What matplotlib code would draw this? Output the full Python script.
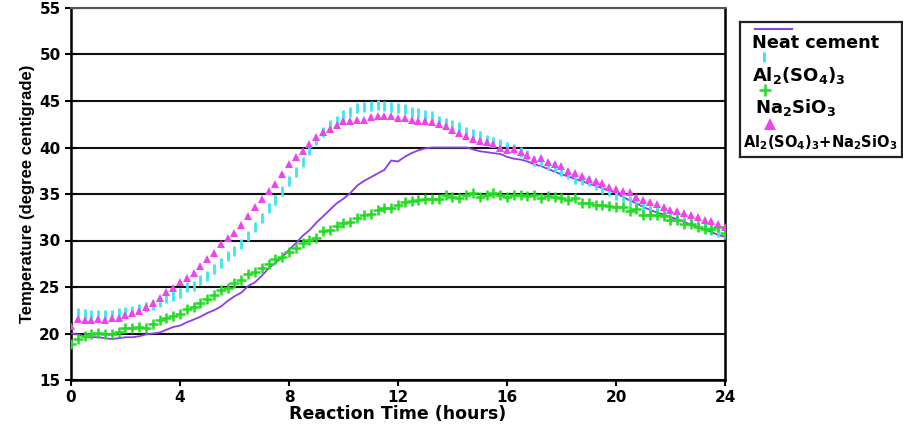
import numpy as np
import matplotlib
matplotlib.use("Agg")
import matplotlib.pyplot as plt

plt.rcParams['font.family'] = ['DejaVu Sans']
plt.rcParams['mathtext.fontset'] = 'custom'
plt.rcParams['mathtext.rm'] = 'DejaVu Sans:bold'
plt.rcParams['mathtext.it'] = 'DejaVu Sans:bold'
plt.rcParams['mathtext.bf'] = 'DejaVu Sans:bold'

# reaction time, every 15 minutes
hours = np.arange(0, 24.01, 0.25)

neat_cement = [
    20.0, 19.9, 19.7, 19.6, 19.6, 19.5, 19.4, 19.5, 19.6, 19.6, 19.7, 19.9,
    20.0, 20.1, 20.4, 20.7, 20.85, 21.2, 21.5, 21.8, 22.2, 22.5, 22.9, 23.5,
    24.0, 24.4, 25.1, 25.5, 26.2, 27.0, 27.6, 28.2, 29.0, 29.7, 30.5, 31.1,
    31.9, 32.6, 33.3, 34.0, 34.5, 35.1, 35.9, 36.4, 36.8, 37.2, 37.6, 38.6,
    38.5, 39.0, 39.4, 39.7, 39.9, 40.0, 40.0, 40.0, 40.0, 40.0, 40.0, 39.8,
    39.6, 39.5, 39.4, 39.3, 39.0, 38.8, 38.7, 38.5, 38.2, 38.0, 37.7, 37.4,
    37.1, 36.9, 36.6, 36.4, 36.1, 35.9, 35.6, 35.4, 35.1, 34.7, 34.3, 34.0,
    33.6, 33.3, 33.0, 32.8, 32.5, 32.3, 32.0, 31.7, 31.45, 31.2, 30.9, 30.6,
    30.4,
]

al_sulfate = [
    np.nan, 22.2, 22.1, 22.0, 22.0, 22.0, 22.0, 22.2, 22.3, 22.4, 22.6, 22.9,
    23.1, 23.4, 23.8, 24.0, 24.4, 25.0, 25.1, 25.8, 26.2, 26.9, 27.6, 28.3,
    28.9, 29.6, 30.5, 31.5, 32.4, 33.5, 34.4, 35.3, 36.4, 37.4, 38.4, 39.7,
    40.8, 41.7, 42.4, 42.9, 43.5, 43.8, 44.2, 44.4, 44.5, 44.6, 44.5, 44.4,
    44.3, 44.1, 43.8, 43.7, 43.5, 43.4, 42.9, 42.6, 42.4, 42.2, 41.7, 41.4,
    41.2, 40.8, 40.6, 40.4, 40.1, 39.8, 39.5, 39.2, 38.6, 38.5, 38.1, 37.9,
    37.45, 37.1, 36.6, 36.5, 36.4, 36.0, 35.5, 35.3, 34.9, 34.7, 34.3, 34.0,
    33.6, 33.35, 33.1, 32.9, 32.7, 32.5, 32.25, 32.1, 31.8, 31.45, 31.15, 30.9,
    30.7,
]

na_silicate = [
    18.9, 19.4, 19.7, 20.0, 20.1, 20.0, 20.0, 20.2, 20.6, 20.6, 20.7, 20.6,
    21.0, 21.4, 21.7, 21.85, 22.1, 22.6, 22.9, 23.3, 23.7, 24.1, 24.7, 24.9,
    25.4, 25.8, 26.4, 26.6, 27.0, 27.5, 28.0, 28.2, 28.8, 29.2, 29.7, 30.1,
    30.25, 31.0, 31.1, 31.6, 31.9, 32.0, 32.4, 32.75, 32.9, 33.3, 33.5, 33.5,
    33.8, 34.1, 34.3, 34.4, 34.5, 34.5, 34.5, 34.9, 34.7, 34.6, 34.9, 35.1,
    34.7, 34.9, 35.1, 34.9, 34.7, 34.9, 34.9, 34.8, 34.9, 34.6, 34.8, 34.65,
    34.55, 34.4, 34.55, 34.0, 34.0, 33.8, 33.8, 33.7, 33.55, 33.55, 33.2, 33.35,
    32.7, 32.7, 32.7, 32.6, 32.2, 32.25, 31.75, 31.75, 31.5, 31.2, 31.2, 31.4,
    30.8,
]

combined = [
    20.8, 21.6, 21.5, 21.4, 21.6, 21.5, 21.7, 21.7, 22.0, 22.2, 22.4, 22.9,
    23.3, 23.8, 24.5, 24.9, 25.5, 26.0, 26.5, 27.3, 28.0, 28.7, 29.6, 30.3,
    30.8, 31.7, 32.6, 33.6, 34.5, 35.3, 36.1, 37.2, 38.2, 39.0, 39.6, 40.4,
    41.1, 41.7, 42.0, 42.4, 42.9, 42.8, 43.0, 43.0, 43.3, 43.4, 43.4, 43.4,
    43.2, 43.2, 43.0, 42.9, 42.9, 42.7, 42.5, 42.3, 41.9, 41.6, 41.2, 40.9,
    40.7, 40.6, 40.4, 40.0, 39.7, 39.8, 39.5, 39.2, 38.8, 38.9, 38.4, 38.2,
    38.0, 37.5, 37.3, 36.9, 36.6, 36.4, 36.2, 35.8, 35.5, 35.3, 35.2, 34.7,
    34.4, 34.1, 33.9, 33.6, 33.3, 33.2, 33.0, 32.7, 32.5, 32.2, 32.1, 31.8,
    31.5,
]

labels = ["Neat cement", r"Al$_2$(SO$_4$)$_3$", r"Na$_2$SiO$_3$",
          r"Al$_2$(SO$_4$)$_3$+Na$_2$SiO$_3$"]

c_neat = "#8a3fe6"
c_al = "#3ee6ee"
c_na = "#22dd22"
c_mix = "#ee44ee"

W, H = 904, 428
fig = plt.figure(figsize=(W / 100, H / 100), dpi=100)
ax = fig.add_axes([71 / W, 1 - 380 / H, (725 - 71) / W, (380 - 8) / H])

ax.plot(hours, neat_cement, color=c_neat, lw=1.3, zorder=3)
ax.plot(hours, al_sulfate, ls="none", marker="|", ms=7, mew=2.0, color=c_al, zorder=4)
ax.plot(hours, na_silicate, ls="none", marker="+", ms=6.5, mew=1.8, color=c_na, zorder=4)
ax.plot(hours, combined, ls="none", marker="^", ms=5.5, mew=0, color=c_mix, zorder=4)

ax.set_xlim(0, 24)
ax.set_ylim(15, 55)
ax.set_xticks(range(0, 25, 4))
ax.set_yticks(range(15, 56, 5))
ax.yaxis.grid(True, color="#111111", lw=1.5)
ax.set_axisbelow(True)
for s in ["left", "bottom", "right"]:
    ax.spines[s].set_color("black")
    ax.spines[s].set_linewidth(1.8)
ax.spines["top"].set_color("#555555")
ax.spines["top"].set_linewidth(1.5)
ax.tick_params(axis="y", direction="inout", length=9, width=1.5, pad=3)
ax.tick_params(axis="x", direction="out", length=4, width=1.5, pad=3)
for lab in ax.get_xticklabels() + ax.get_yticklabels():
    lab.set_fontweight("bold")
    lab.set_fontsize(11)

ax.set_xlabel("Reaction Time (hours)", fontsize=12.5, fontweight="bold", labelpad=0)
ax.set_ylabel("Temperature (degree centigrade)", fontsize=12,
              family=["Liberation Sans", "DejaVu Sans"],
              fontweight="bold", labelpad=3)

# legend box, handles above their labels
lg = fig.add_axes([740 / W, 1 - 157 / H, 162 / W, 135 / H])
lg.set_xlim(0, 162)
lg.set_ylim(135, 0)
lg.set_xticks([])
lg.set_yticks([])
for s in lg.spines.values():
    s.set_linewidth(1.6)
    s.set_color("#222222")
lg.plot([15, 52], [7, 7], color=c_neat, lw=1.5)
lg.plot([24], [35], marker="|", ms=7, mew=2.2, color=c_al)
lg.plot([25], [68], marker="+", ms=8, mew=1.8, color=c_na)
lg.plot([30], [102], marker="^", ms=9, mew=0, color=c_mix)
lg.text(12, 21, labels[0], fontsize=12.7, fontweight="bold", va="center")
lg.text(12, 53, labels[1], fontsize=13, fontweight="bold", va="center")
lg.text(15, 85, labels[2], fontsize=13, fontweight="bold", va="center")
lg.text(3, 121, labels[3], fontsize=10.5, fontweight="bold", va="center")

fig.savefig("out.png", dpi=100)
